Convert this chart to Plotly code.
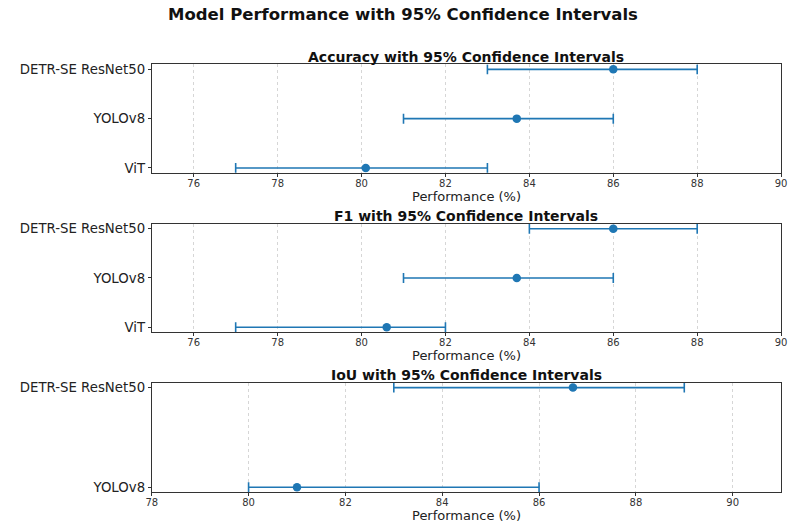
import plotly.graph_objects as go

# Models (bottom to top) and metric values with 95% confidence bounds
models3 = ["ViT", "YOLOv8", "DETR-SE ResNet50"]
models2 = ["YOLOv8", "DETR-SE ResNet50"]

acc_mean = [80.1, 83.7, 86.0]
acc_low = [77.0, 81.0, 83.0]
acc_high = [83.0, 86.0, 88.0]

f1_mean = [80.6, 83.7, 86.0]
f1_low = [77.0, 81.0, 84.0]
f1_high = [82.0, 86.0, 88.0]

iou_mean = [81.0, 86.7]
iou_low = [80.0, 83.0]
iou_high = [86.0, 89.0]

panels = [
    ("Accuracy with 95% Confidence Intervals", models3, acc_mean, acc_low, acc_high, [75, 90], list(range(76, 91, 2))),
    ("F1 with 95% Confidence Intervals", models3, f1_mean, f1_low, f1_high, [75, 90], list(range(76, 91, 2))),
    ("IoU with 95% Confidence Intervals", models2, iou_mean, iou_low, iou_high, [78, 91], list(range(78, 91, 2))),
]

W, H = 794, 524
# vertical pixel extents (top, bottom) of each panel
panel_px = [(63, 172.5), (224, 333.3), (384.3, 495)]
BLUE = "#1f77b4"
FONT = "DejaVu Sans"
XC = 467.5 / W  # horizontal centre of the plotting area

fig = go.Figure()
annotations = []
for i, (title, cats, mean, low, high, xr, ticks) in enumerate(panels):
    n = i + 1
    xa = "x" if n == 1 else f"x{n}"
    ya = "y" if n == 1 else f"y{n}"
    plus = [h - m for h, m in zip(high, mean)]
    minus = [m - l for m, l in zip(mean, low)]
    fig.add_trace(go.Scatter(
        x=mean, y=cats, mode="markers", xaxis=xa, yaxis=ya,
        marker=dict(color=BLUE, size=8.5),
        error_x=dict(type="data", symmetric=False, array=plus, arrayminus=minus,
                     color=BLUE, thickness=1.6, width=5),
        showlegend=False,
    ))
    top, bot = panel_px[i]
    dom = [1 - bot / H, 1 - top / H]
    pad = 0.1 if len(cats) == 3 else 0.05
    axis_common = dict(showline=True, linecolor="#333333", linewidth=1, mirror=True,
                       ticks="outside", ticklen=3, tickcolor="#333333")
    fig.layout[f"xaxis{'' if n == 1 else n}"] = dict(
        anchor=ya, domain=[148 / W, 787 / W], range=xr,
        tickmode="array", tickvals=ticks, ticktext=[str(t) for t in ticks],
        showgrid=True, gridcolor="#d6d6d6", griddash="dot", gridwidth=1,
        zeroline=False, tickfont=dict(size=10, color="#333333", family=FONT),
        ticklabelstandoff=-2,
        **axis_common,
    )
    fig.layout[f"yaxis{'' if n == 1 else n}"] = dict(
        anchor=xa, domain=dom, type="category", categoryorder="array", categoryarray=cats,
        range=[-pad, len(cats) - 1 + pad], showgrid=False, zeroline=False,
        tickfont=dict(size=13.3, color="#222222", family=FONT),
        **axis_common,
    )
    # panel title
    annotations.append(dict(
        text=f"<b>{title}</b>", x=XC, y=1 - (top - 7.5) / H, xref="paper", yref="paper",
        xanchor="center", yanchor="middle", showarrow=False,
        font=dict(size=14, color="#111111", family=FONT),
    ))
    # x-axis label
    annotations.append(dict(
        text="Performance (%)", x=XC, y=1 - (bot + 23.5) / H, xref="paper", yref="paper",
        xanchor="center", yanchor="middle", showarrow=False,
        font=dict(size=13, color="#222222", family=FONT),
    ))

annotations.append(dict(
    text="<b>Model Performance with 95% Confidence Intervals</b>", x=403.5 / W, y=1 - 13 / H,
    xref="paper", yref="paper", xanchor="center", yanchor="middle", showarrow=False,
    font=dict(size=16.5, color="#111111", family=FONT),
))

fig.update_layout(
    width=W, height=H, margin=dict(l=0, r=0, t=0, b=0),
    paper_bgcolor="white", plot_bgcolor="white",
    annotations=annotations, font=dict(family=FONT),
)

fig.write_html("out.html")
